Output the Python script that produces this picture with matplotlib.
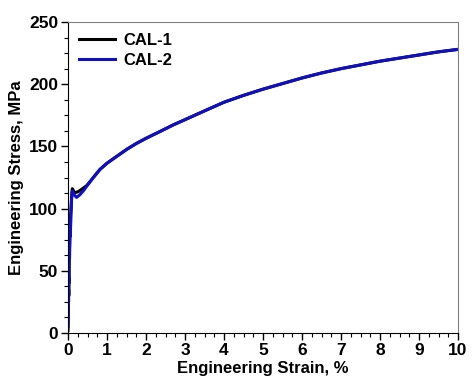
import matplotlib
matplotlib.use("Agg")
import matplotlib.pyplot as plt
from matplotlib.ticker import MultipleLocator

plt.rcParams['font.family'] = ['Liberation Sans', 'DejaVu Sans']
plt.rcParams['font.weight'] = 'bold'

# CAL-1 (black)
strain1 = [0.0, 0.01, 0.015, 0.02, 0.03, 0.04, 0.05, 0.06, 0.07, 0.08, 0.09, 0.10, 0.11, 0.13, 0.16,
           0.20, 0.26, 0.35, 0.48, 0.65, 0.82, 1.0, 1.25, 1.5, 1.75, 2.0, 2.36, 2.7, 3.0, 3.64, 4.0,
           4.5, 5.0, 5.5, 6.0, 6.5, 7.0, 7.5, 8.0, 8.5, 9.0, 9.5, 10.0]
stress1 = [2, 20, 35, 30, 55, 70, 80, 78, 95, 100, 108, 113, 116, 115, 112.8,
           113, 113.6, 115.5, 118.5, 125, 131.5, 136.5, 142, 147.5, 152.3, 156.5, 162, 167.3, 171.5, 180.5, 185.5,
           191, 196, 200.5, 205, 209, 212.5, 215.5, 218.5, 221, 223.5, 226, 228]

# CAL-2 (blue)
strain2 = [0.0, 0.005, 0.01, 0.015, 0.02, 0.025, 0.03, 0.04, 0.05, 0.06, 0.07, 0.08, 0.09, 0.10, 0.12,
           0.16, 0.22, 0.30, 0.40, 0.48, 0.65, 0.82, 1.0, 1.25, 1.5, 1.75, 2.0, 2.36, 2.7, 3.0, 3.64, 4.0,
           4.5, 5.0, 5.5, 6.0, 6.5, 7.0, 7.5, 8.0, 8.5, 9.0, 9.5, 10.0]
stress2 = [5, 10, 30, 25, 45, 40, 62, 60, 80, 78, 92, 100, 106, 112, 114,
           111, 109, 111, 114.5, 118, 125, 131.5, 136.5, 142, 147.5, 152.3, 156.5, 162, 167.3, 171.5, 180.5, 185.5,
           191, 196, 200.5, 205, 209, 212.5, 215.5, 218.5, 221, 223.5, 226, 228]

labels = ['CAL-1', 'CAL-2']
colors = ['#000000', '#1010c0']

fig = plt.figure(figsize=(4.74, 3.87), dpi=100)
ax = fig.add_axes([68/474, 1-333/387, (458-68)/474, (333-22)/387])

ax.plot(strain1, stress1, color=colors[0], lw=2.2, label=labels[0])
ax.plot(strain2, stress2, color=colors[1], lw=2.2, label=labels[1])

ax.set_xlim(0, 10)
ax.set_ylim(0, 250)
ax.xaxis.set_major_locator(MultipleLocator(1))
ax.xaxis.set_minor_locator(MultipleLocator(0.25))
ax.yaxis.set_major_locator(MultipleLocator(50))
ax.yaxis.set_minor_locator(MultipleLocator(12.5))
ax.tick_params(axis='both', which='major', direction='out', length=5, width=1,
               labelsize=12.5, top=False, right=False, pad=2)
ax.tick_params(axis='both', which='minor', direction='out', length=3, width=0.8,
               top=False, right=False)
for lab in ax.get_xticklabels() + ax.get_yticklabels():
    lab.set_fontweight('bold')

for s in ['top', 'right']:
    ax.spines[s].set_color('#808080')
for s in ['left', 'bottom']:
    ax.spines[s].set_color('#000000')

ax.set_xlabel('Engineering Strain, %', fontsize=12, fontweight='bold', labelpad=2)
ax.set_ylabel('Engineering Stress, MPa', fontsize=12, fontweight='bold', labelpad=4)

leg = ax.legend(loc='upper left', frameon=False, handlelength=2.15,
                handletextpad=0.55, borderaxespad=0.25, labelspacing=0.3,
                prop={'weight': 'bold', 'size': 12})

fig.savefig('out.png', dpi=100)
